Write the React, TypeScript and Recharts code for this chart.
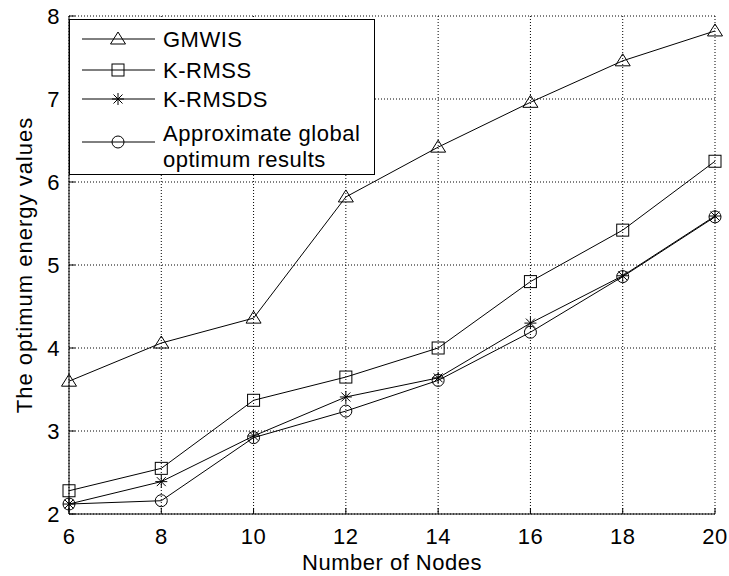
import { LineChart, Line, XAxis, YAxis, CartesianGrid, Legend } from 'recharts'

const nodes = [6, 8, 10, 12, 14, 16, 18, 20]
const gmwis = [3.6, 4.06, 4.36, 5.82, 6.42, 6.96, 7.46, 7.82]
const kRmss = [2.28, 2.55, 3.37, 3.65, 4.0, 4.8, 5.42, 6.25]
const kRmsds = [2.12, 2.39, 2.94, 3.41, 3.64, 4.3, 4.87, 5.59]
const approx = [2.12, 2.16, 2.92, 3.24, 3.61, 4.19, 4.86, 5.58]
const xTicks = [6, 8, 10, 12, 14, 16, 18, 20]
const yTicks = [2, 3, 4, 5, 6, 7, 8]

const rows = nodes.map((n, i) => ({
    n,
    gmwis: gmwis[i],
    kRmss: kRmss[i],
    kRmsds: kRmsds[i],
    approx: approx[i],
}))

const FONT = '"Liberation Sans", Arial, Helvetica, sans-serif'

type Kind = 'triangle' | 'square' | 'star' | 'circle'

function Marker({ kind, cx, cy }: { kind: Kind; cx: number; cy: number }) {
    const common = { fill: 'none', stroke: '#000', strokeWidth: 1 }
    if (kind === 'triangle') {
        return <polygon points={`${cx},${cy - 7} ${cx - 7.5},${cy + 5} ${cx + 7.5},${cy + 5}`} {...common} />
    }
    if (kind === 'square') {
        return <rect x={cx - 6} y={cy - 6} width={12} height={12} {...common} />
    }
    if (kind === 'star') {
        const d = 4.5
        return (
            <path
                d={`M${cx - 6},${cy}H${cx + 6}M${cx},${cy - 6}V${cy + 6}M${cx - d},${cy - d}L${cx + d},${cy + d}M${cx - d},${cy + d}L${cx + d},${cy - d}`}
                {...common}
            />
        )
    }
    return <circle cx={cx} cy={cy} r={6} {...common} />
}

const dotFor = (kind: Kind) => (p: any) => (
    <Marker key={`${kind}-${p.index}`} kind={kind} cx={p.cx} cy={p.cy} />
)

function LegendBox() {
    const entries: { kind: Kind; y: number; lines: string[]; ty: number[] }[] = [
        { kind: 'triangle', y: 19, lines: ['GMWIS'], ty: [19] },
        { kind: 'square', y: 50, lines: ['K-RMSS'], ty: [50] },
        { kind: 'star', y: 79, lines: ['K-RMSDS'], ty: [79] },
        { kind: 'circle', y: 122, lines: ['Approximate global', 'optimum results'], ty: [113, 139] },
    ]
    return (
        <div style={{ border: '1px solid #000', background: '#fff', width: 304, height: 154 }}>
            <svg width={304} height={154} style={{ display: 'block' }}>
                {entries.map((e) => (
                    <g key={e.kind}>
                        <line x1={12} x2={85} y1={e.y} y2={e.y} stroke="#000" strokeWidth={1} />
                        <Marker kind={e.kind} cx={48} cy={e.y} />
                        {e.lines.map((t, j) => (
                            <text key={t} x={93} y={e.ty[j] + 8} fontSize={22} letterSpacing={0.5} fontFamily={FONT} fill="#000">
                                {t}
                            </text>
                        ))}
                    </g>
                ))}
            </svg>
        </div>
    )
}

export default function App() {
    const tickStyle = { fill: '#000', fontSize: 22, fontFamily: FONT, letterSpacing: 0.5 }
    return (
        <div style={{ position: 'absolute', left: 0, top: 0, width: 729, height: 576, background: '#fff', fontFamily: FONT }}>
            <LineChart width={729} height={576} data={rows} margin={{ top: 16, right: 14, bottom: 12, left: 0 }}>
                <CartesianGrid stroke="#000" strokeDasharray="1 2" strokeWidth={1} />
                <XAxis
                    dataKey="n"
                    type="number"
                    domain={[6, 20]}
                    ticks={xTicks}
                    height={50}
                    stroke="#000"
                    tickSize={-6}
                    tickMargin={20}
                    tick={tickStyle}
                    label={{ value: 'Number of Nodes', position: 'insideBottom', offset: -6, fill: '#000', fontSize: 22, fontFamily: FONT, letterSpacing: 0.5 }}
                />
                <XAxis
                    xAxisId="t"
                    orientation="top"
                    type="number"
                    domain={[6, 20]}
                    ticks={xTicks}
                    height={0}
                    stroke="#000"
                    tickSize={-6}
                    tick={false}
                />
                <YAxis
                    type="number"
                    domain={[2, 8]}
                    ticks={yTicks}
                    width={69}
                    stroke="#000"
                    tickSize={-6}
                    tickMargin={15}
                    tick={tickStyle}
                    label={{ value: 'The optimum energy values', angle: -90, position: 'insideLeft', offset: 24, fill: '#000', fontSize: 22, fontFamily: FONT, letterSpacing: 1, style: { textAnchor: 'middle' } }}
                />
                <YAxis
                    yAxisId="r"
                    orientation="right"
                    type="number"
                    domain={[2, 8]}
                    ticks={yTicks}
                    width={0}
                    stroke="#000"
                    tickSize={-6}
                    tick={false}
                />
                <Legend
                    layout="vertical"
                    align="center"
                    verticalAlign="middle"
                    content={() => <LegendBox />}
                    wrapperStyle={{ left: 69, top: 19, width: 306, height: 156, margin: 0 }}
                />
                <Line dataKey="gmwis" name="GMWIS" stroke="#000" strokeWidth={1} dot={dotFor('triangle')} isAnimationActive={false} />
                <Line dataKey="kRmss" name="K-RMSS" stroke="#000" strokeWidth={1} dot={dotFor('square')} isAnimationActive={false} />
                <Line dataKey="kRmsds" name="K-RMSDS" stroke="#000" strokeWidth={1} dot={dotFor('star')} isAnimationActive={false} />
                <Line dataKey="approx" name="Approximate global optimum results" stroke="#000" strokeWidth={1} dot={dotFor('circle')} isAnimationActive={false} />
            </LineChart>
        </div>
    )
}
